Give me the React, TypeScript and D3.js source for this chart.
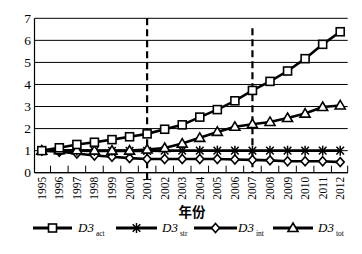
import React from "react";
import * as d3 from "d3";

const years = [1995, 1996, 1997, 1998, 1999, 2000, 2001, 2002, 2003, 2004, 2005, 2006, 2007, 2008, 2009, 2010, 2011, 2012];
const actValues = [1.0, 1.13, 1.28, 1.38, 1.5, 1.63, 1.76, 1.97, 2.17, 2.52, 2.86, 3.26, 3.73, 4.14, 4.61, 5.17, 5.82, 6.39];
const strValues = [1.0, 1.0, 1.0, 0.99, 0.99, 0.99, 0.99, 1.0, 1.0, 1.0, 1.0, 1.0, 1.0, 1.0, 1.0, 1.0, 1.0, 1.0];
const intValues = [1.0, 0.95, 0.87, 0.78, 0.72, 0.66, 0.62, 0.62, 0.62, 0.62, 0.62, 0.6, 0.58, 0.56, 0.52, 0.52, 0.52, 0.48];
const totValues = [1.0, 1.02, 1.02, 1.0, 1.0, 1.0, 1.05, 1.12, 1.32, 1.58, 1.85, 2.08, 2.2, 2.3, 2.48, 2.68, 2.98, 3.05];
const yTicks = [0, 1, 2, 3, 4, 5, 6, 7];
const markerYears = [2001, 2007];
const seriesNames = ["act", "str", "int", "tot"];
const xTitle = "年份";

const W = 362, H = 254;
const left = 34.5, right = 347.7, top = 18.3, bottom = 172.7;

function Marker({ kind, x, y }: { kind: string; x: number; y: number }) {
  const sw = 1.6;
  if (kind === "act") {
    return <rect x={x - 4} y={y - 4} width={8} height={8} fill="#fff" stroke="#000" strokeWidth={sw} />;
  }
  if (kind === "str") {
    const r = 5;
    const d = 3.8;
    return (
      <g stroke="#000" strokeWidth={1.5}>
        <line x1={x} y1={y - r} x2={x} y2={y + r} />
        <line x1={x - d} y1={y - d} x2={x + d} y2={y + d} />
        <line x1={x - d} y1={y + d} x2={x + d} y2={y - d} />
      </g>
    );
  }
  if (kind === "int") {
    return (
      <path d={`M${x},${y - 4.5}L${x + 4},${y}L${x},${y + 4.5}L${x - 4},${y}Z`} fill="#fff" stroke="#000" strokeWidth={sw} />
    );
  }
  return (
    <path d={`M${x},${y - 5}L${x + 5},${y + 3.5}L${x - 5},${y + 3.5}Z`} fill="#fff" stroke="#000" strokeWidth={sw} />
  );
}

export default function App() {
  const x = d3.scaleBand<number>().domain(years).range([33, 349]).padding(0);
  const cx = (yr: number) => (x(yr) as number) + x.bandwidth() / 2;
  const y = d3.scaleLinear().domain([0, 7]).range([bottom, top]);
  const line = d3.line<[number, number]>().x((d) => d[0]).y((d) => d[1]);

  const series: { name: string; values: number[] }[] = [
    { name: "act", values: actValues },
    { name: "str", values: strValues },
    { name: "int", values: intValues },
    { name: "tot", values: totValues },
  ];
  const drawOrder = ["int", "str", "tot", "act"];

  const boundaries = years.slice(1).map((yr) => x(yr) as number);
  boundaries.push(right);

  const legendItems = [
    { name: seriesNames[0], x0: 33, x1: 72, tx: 78 },
    { name: seriesNames[1], x0: 116, x1: 157, tx: 162 },
    { name: seriesNames[2], x0: 194, x1: 237, tx: 238 },
    { name: seriesNames[3], x0: 273, x1: 313, tx: 318 },
  ];
  const legendY = 228;

  return (
    <svg width={W} height={H} style={{ position: "absolute", left: 0, top: 0, background: "#fff" }} fontFamily="'Liberation Serif', 'Times New Roman', serif">
      <rect x={0} y={0} width={W} height={H} fill="#fff" />
      {yTicks.map((t) => (
        <line key={t} x1={left} x2={right} y1={y(t)} y2={y(t)} stroke="#000" strokeWidth={1} />
      ))}
      <line x1={left} x2={left} y1={top} y2={bottom} stroke="#000" strokeWidth={1.2} />
      <line x1={left} x2={right} y1={bottom} y2={bottom} stroke="#000" strokeWidth={1.2} />
      {boundaries.map((b, i) => (
        <line key={i} x1={b} x2={b} y1={bottom} y2={bottom - 7} stroke="#000" strokeWidth={1} />
      ))}
      {yTicks.map((t) => (
        <text key={t} x={31} y={y(t)} dy="0.35em" textAnchor="end" fontSize={13.5} fill="#000">
          {t}
        </text>
      ))}
      {years.map((yr) => (
        <text key={yr} transform={`translate(${cx(yr)},${bottom + 4}) rotate(-90)`} dy="0.35em" textAnchor="end" fontSize={11.5} fill="#000">
          {yr}
        </text>
      ))}
      {markerYears.map((yr, i) => (
        <line key={yr} x1={cx(yr)} x2={cx(yr)} y1={i === 0 ? top : top + 10} y2={i === 0 ? bottom + 10 : bottom} stroke="#000" strokeWidth={2.2} strokeDasharray="7,4" />
      ))}
      {drawOrder.map((nm) => {
        const s = series.find((ss) => ss.name === nm)!;
        const pts: [number, number][] = years.map((yr, i) => [cx(yr), y(s.values[i])]);
        return (
          <g key={nm}>
            <path d={line(pts) || ""} fill="none" stroke="#000" strokeWidth={2.6} />
            {pts.map((p, i) => (
              <Marker key={i} kind={nm} x={p[0]} y={p[1]} />
            ))}
          </g>
        );
      })}
      <text x={192} y={217} textAnchor="middle" fontSize={13.5} fontWeight="bold" fontFamily="'Noto Sans CJK SC', sans-serif" fill="#000">
        {xTitle}
      </text>
      {legendItems.map((it) => (
        <g key={it.name}>
          <line x1={it.x0} x2={it.x1} y1={legendY} y2={legendY} stroke="#000" strokeWidth={3} />
          <Marker kind={it.name} x={(it.x0 + it.x1) / 2} y={legendY} />
          <text x={it.tx} y={legendY + 4} fontSize={13} fontStyle="italic" fill="#000">
            D3
            <tspan fontSize={7.5} fontStyle="normal" dx={2} dy={4}>
              {it.name}
            </tspan>
          </text>
        </g>
      ))}
    </svg>
  );
}
